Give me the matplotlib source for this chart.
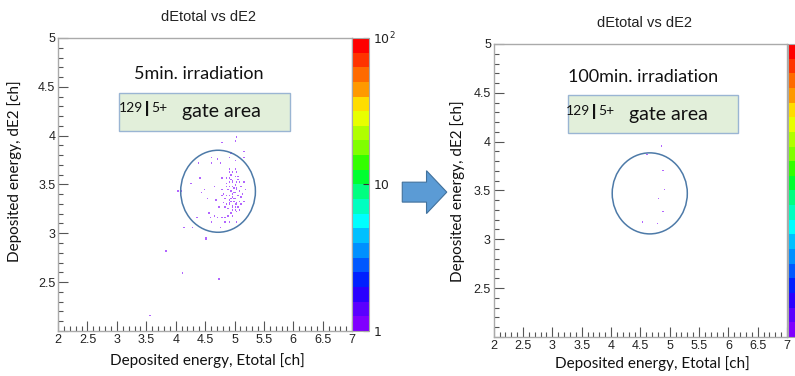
import matplotlib
matplotlib.use("Agg")
import matplotlib.pyplot as plt
from matplotlib.colors import ListedColormap, LogNorm
from matplotlib.patches import Ellipse, Rectangle, FancyArrow
from matplotlib.ticker import MultipleLocator, FixedLocator, FixedFormatter
import numpy as np

# events after 5 min of irradiation (Etotal, dE2)
e5_x = [5.04, 5.01, 4.80, 5.16, 4.94, 4.62, 4.70, 4.91, 5.15, 5.00, 4.62, 4.75, 4.39,
        4.90, 5.01, 4.92, 4.97, 5.05, 4.80, 4.91, 4.93, 5.07, 5.08, 4.97, 4.40, 4.26,
        5.15, 4.09, 4.43, 4.48, 4.65, 4.54, 4.68, 4.73, 4.57, 4.58, 4.67, 4.72, 4.79,
        4.84, 4.89, 4.96, 5.04, 4.91, 4.84, 4.60, 4.37, 4.28, 4.14, 4.76, 4.51, 5.15,
        5.19, 4.03,
        4.85, 4.90, 4.95, 5.00, 5.05, 4.88, 4.93, 4.98, 5.02, 5.08, 4.82, 4.87, 4.92,
        4.96, 5.01, 5.06, 5.11, 4.84, 4.90, 4.94, 4.99, 5.03, 5.08, 4.86, 4.91, 4.97,
        5.02, 5.06, 5.12, 4.89, 4.95, 5.00, 5.05, 4.93, 4.98, 4.91, 4.96, 5.04, 4.80,
        4.78, 4.81, 5.10, 5.14, 4.97, 4.94, 5.00, 4.87, 5.03, 4.92, 4.99, 5.05, 4.96,
        4.83, 5.09, 5.01, 4.93, 4.86, 5.07,
        3.84, 4.12, 4.74, 3.55, 4.50]
e5_y = [3.99, 3.94, 3.92, 3.83, 3.82, 3.78, 3.76, 3.77, 3.77, 3.74, 3.72, 3.71, 3.71,
        3.65, 3.65, 3.62, 3.62, 3.62, 3.56, 3.57, 3.55, 3.58, 3.53, 3.53, 3.56, 3.51,
        3.52, 3.43, 3.42, 3.44, 3.48, 3.35, 3.34, 3.26, 3.21, 3.16, 3.18, 3.16, 3.16,
        3.16, 3.18, 3.18, 3.12, 3.12, 3.11, 3.11, 3.16, 3.06, 3.06, 3.06, 2.95, 3.33,
        3.44, 3.43,
        3.50, 3.48, 3.47, 3.49, 3.46, 3.44, 3.43, 3.42, 3.41, 3.43, 3.40, 3.39, 3.38,
        3.37, 3.36, 3.38, 3.37, 3.35, 3.34, 3.33, 3.32, 3.31, 3.33, 3.30, 3.29, 3.28,
        3.27, 3.26, 3.29, 3.25, 3.24, 3.23, 3.22, 3.20, 3.46, 3.52, 3.54, 3.52, 3.45,
        3.38, 3.31, 3.47, 3.40, 3.40, 3.36, 3.30, 3.47, 3.44, 3.31, 3.35, 3.29, 3.26,
        3.27, 3.24, 3.58, 3.60, 3.56, 3.55,
        2.81, 2.59, 2.53, 2.16, 2.94]

# events after 100 min of irradiation
e100_x = [4.86, 4.61, 4.88, 4.90, 4.82, 4.88, 4.53, 4.78]
e100_y = [3.95, 3.87, 3.70, 3.50, 3.42, 3.28, 3.18, 3.16]

# gate ellipses: centre x, centre y, width, height
gate5 = (4.72, 3.43, 1.27, 0.84)
gate100 = (4.66, 3.47, 1.28, 0.83)

titles = ["dEtotal vs dE2", "dEtotal vs dE2"]
notes = ["5min. irradiation", "100min. irradiation"]

# ROOT-like rainbow palette, bottom to top
palette = ['#8000ff', '#5a00ff', '#2a00ff', '#0020ff', '#0058ff', '#0090ff', '#00c0ff',
           '#00ffff', '#00ffc0', '#00ff80', '#00ff30', '#33ff00', '#80ff00', '#b0ff00',
           '#e8ff00', '#ffdd00', '#ff9900', '#ff6a00', '#ff3300', '#ff0000']
cmap = ListedColormap(palette)

fig = plt.figure(figsize=(7.95, 3.76), dpi=100)

panels = [
    dict(pos=[0.073, 0.120, 0.370, 0.779], cb=[0.443, 0.120, 0.0214, 0.779], cblabels=True,
         x=e5_x, y=e5_y, gate=gate5, title=titles[0], note=notes[0],
         note_xy=(4.40, 4.63), box=(3.03, 4.05, 2.91, 0.39), lab_x=3.46, lab_y=4.20,
         title_xy=(0.262, 0.955), xlab_xy=(0.261, 0.042), ylab_xy=(0.018, 0.545)),
    dict(pos=[0.621, 0.104, 0.369, 0.779], cb=[0.991, 0.104, 0.0214, 0.779], cblabels=False,
         x=e100_x, y=e100_y, gate=gate100, title=titles[1], note=notes[1],
         note_xy=(4.54, 4.66), box=(3.26, 4.09, 2.90, 0.39), lab_x=3.66, lab_y=4.235,
         title_xy=(0.811, 0.940), xlab_xy=(0.820, 0.034), ylab_xy=(0.575, 0.492)),
]

xbins = np.linspace(2, 7, 201)
ybins = np.linspace(2, 5, 201)

for p in panels:
    ax = fig.add_axes(p['pos'])
    h = ax.hist2d(p['x'], p['y'], bins=[xbins, ybins], cmap=cmap,
                  norm=LogNorm(vmin=1, vmax=100), cmin=1, alpha=0.6)
    ax.set_xlim(2, 7)
    ax.set_ylim(2, 5)

    ax.xaxis.set_major_locator(MultipleLocator(0.5))
    ax.xaxis.set_minor_locator(MultipleLocator(0.1))
    ax.yaxis.set_major_locator(MultipleLocator(0.5))
    ax.yaxis.set_minor_locator(MultipleLocator(0.1))
    ax.set_xticklabels([f"{v:g}" for v in ax.get_xticks()])
    ax.set_yticklabels(["" if v == 2 else f"{v:g}" for v in ax.get_yticks()])
    ax.tick_params(which='both', direction='in', colors='#555555', labelcolor='#222222',
                   labelsize=9, width=0.8, top=False, right=False)
    ax.tick_params(which='major', length=7, pad=2)
    ax.tick_params(which='minor', length=3.5)
    for lab in ax.get_xticklabels() + ax.get_yticklabels():
        lab.set_fontfamily('Liberation Sans')
    for s in ax.spines.values():
        s.set_color('#aaaaaa')
        s.set_linewidth(1.0)

    cx, cy, w, hgt = p['gate']
    ax.add_patch(Ellipse((cx, cy), w, hgt, fill=False, edgecolor='#4d7aa8', lw=1.1))

    bx, by, bw, bh = p['box']
    ax.add_patch(Rectangle((bx, by), bw, bh, facecolor='#e2efda', edgecolor='#9ab5d3', lw=1.0))
    # isotope label: element symbol with mass number and charge state raised beside it
    tI = ax.text(p['lab_x'], p['lab_y'], "I", ha='left', va='baseline',
                 fontsize=16, family='Lato', color='#111111')
    ax.annotate("129", xycoords=tI, xy=(0, 1), xytext=(-0.5, -1.5),
                textcoords='offset points', ha='right', va='top', fontsize=10,
                family='Lato', color='#111111')
    t5 = ax.annotate("5+", xycoords=tI, xy=(1, 1), xytext=(0.5, -1.5),
                     textcoords='offset points', ha='left', va='top', fontsize=10,
                     family='Lato', color='#111111')
    ax.annotate("gate area", xycoords=(t5, tI), xy=(1, 0), xytext=(11, 0),
                textcoords='offset points', va='bottom', fontsize=14,
                family='Lato', color='#111111')
    ax.text(*p['note_xy'], p['note'], ha='center', va='center', fontsize=13,
            family='Lato', color='#111111')

    fig.text(*p['title_xy'], p['title'], ha='center', va='center', fontsize=10.5,
             family='Liberation Sans', color='#222222')
    fig.text(*p['xlab_xy'], "Deposited energy, Etotal [ch]", ha='center', va='center',
             fontsize=11, family='Lato', color='#111111')
    fig.text(*p['ylab_xy'], "Deposited energy, dE2 [ch]", ha='center', va='center',
             fontsize=11, family='Lato', color='#111111', rotation=90)

    cax = fig.add_axes(p['cb'])
    cb = fig.colorbar(h[3], cax=cax)
    cb.solids.set_alpha(1)
    cb.outline.set_edgecolor('#aaaaaa')
    cax.yaxis.set_major_locator(FixedLocator([1, 10, 100]))
    cax.yaxis.set_minor_locator(FixedLocator([]))
    if p['cblabels']:
        cax.yaxis.set_major_formatter(FixedFormatter(["1", "10", "$10^2$"]))
        cax.tick_params(direction='in', length=4, color='#333333', labelsize=9,
                        labelcolor='#222222', pad=3)
    else:
        cax.tick_params(direction='in', length=4, color='#333333', labelright=False)

# arrow between the two panels
fig.patches.append(FancyArrow(0.506, 0.489, 0.0305, 0, width=0.053, head_width=0.114,
                              head_length=0.0255, length_includes_head=False,
                              facecolor='#5b9bd5', edgecolor='#41719c', lw=0.8,
                              transform=fig.transFigure, figure=fig))

fig.savefig("out.png", dpi=100)
